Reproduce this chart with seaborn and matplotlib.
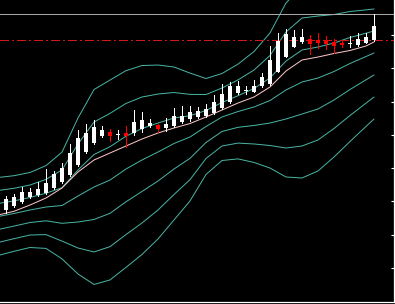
import matplotlib
matplotlib.use("Agg")
import matplotlib.pyplot as plt
import seaborn as sns
import pandas as pd
import numpy as np

# ---- candle data (price units) ----
candle_idx = list(range(-1, 47))
opens = [36.47, 37.37, 38.57, 39.77, 41.28, 41.88, 42.48, 43.98, 45.79, 47.90, 50.90, 54.81,
         57.52, 59.62, 60.83, 59.92, 60.53, 60.53, 61.73, 62.63, 63.08, 62.03, 62.63, 63.84,
         64.59, 65.49, 65.64, 66.54, 68.05, 69.85, 72.41, 73.31, 73.01, 74.66, 75.41, 78.96,
         83.53, 86.48, 87.98, 88.71, 88.50, 88.20, 87.80, 87.50, 87.20, 86.99, 87.74, 88.50]
highs = [39.77, 41.58, 42.18, 44.29, 43.99, 45.79, 49.70, 49.10, 51.50, 57.22, 61.43, 63.23,
         64.44, 62.63, 61.73, 61.43, 62.63, 67.44, 66.84, 64.74, 63.38, 65.04, 68.05, 68.65,
         68.65, 68.35, 69.25, 71.95, 75.26, 75.87, 76.17, 74.81, 76.32, 78.72, 86.84, 90.75,
         91.95, 91.50, 91.80, 90.15, 90.60, 89.85, 88.65, 88.20, 89.70, 90.60, 90.75, 96.31]
lows = [36.17, 36.47, 38.27, 39.47, 40.98, 41.58, 42.18, 43.69, 45.49, 47.60, 50.60, 54.51,
        57.22, 59.32, 58.12, 58.72, 56.32, 59.92, 60.83, 62.48, 60.83, 61.13, 62.33, 63.53,
        64.14, 65.04, 65.34, 66.24, 67.74, 69.55, 72.11, 72.26, 72.86, 74.36, 75.11, 78.87,
        83.38, 86.39, 87.68, 84.29, 86.00, 85.79, 84.68, 86.48, 86.48, 86.78, 87.50, 88.29]
closes = [38.87, 40.68, 41.28, 42.78, 42.78, 43.69, 45.49, 48.20, 50.00, 54.51, 59.02, 60.53,
          62.33, 61.43, 59.62, 60.22, 59.77, 63.84, 64.44, 63.53, 61.73, 63.23, 65.64, 65.64,
          66.84, 67.14, 67.74, 69.85, 72.26, 74.66, 74.66, 73.61, 74.81, 77.37, 82.48, 88.05,
          90.30, 89.40, 89.40, 87.29, 87.50, 87.23, 86.75, 86.99, 87.68, 88.86, 89.31, 92.71]

# ---- indicator lines (read every second bar) ----
line_idx = [-1, 1, 3, 5, 7, 9, 11, 13, 15, 17, 19, 21, 23, 25, 27, 29, 31, 33, 35, 37, 39, 41, 43, 45, 46]
bb_mid = [35.41, 36.32, 37.37, 38.27, 38.72, 41.58, 44.29, 46.39, 49.70, 52.41, 54.81, 57.37, 59.32,
          62.48, 65.34, 66.99, 68.35, 70.30, 73.46, 75.86, 77.07, 79.02, 81.43, 83.53, 84.59]
bb_dev = [3.91, 3.79, 3.76, 4.15, 5.35, 7.82, 9.77, 10.02, 9.86, 9.47, 8.72, 7.67, 6.41,
          4.81, 4.36, 4.75, 5.56, 6.77, 8.72, 9.62, 9.32, 8.57, 7.82, 7.01, 6.62]
ma_pink = [35.86, 36.98, 38.87, 40.98, 43.98, 48.80, 52.40, 54.51, 56.62, 58.72, 60.53, 62.03, 63.38,
           65.34, 67.44, 69.55, 71.35, 74.36, 79.17, 82.48, 83.38, 84.44, 85.34, 86.69, 87.90]
band_mult = [-3, -2, -1, 0, 1, 2, 3]

level_red = 88.41
level_gray = 96.32
tick_values = [20, 30, 40, 50, 60, 70, 80, 90]

# ---- style ----
sns.set_theme(style="dark", rc={
    "axes.facecolor": "black", "figure.facecolor": "black",
    "axes.grid": False, "savefig.facecolor": "black",
})

BAND_COLOR = "#48b3a3"
PINK = "#ffc6c6"
LW = 0.72  # 1 px at 100 dpi

fig = plt.figure(figsize=(3.95, 3.04), dpi=100)
ax = fig.add_axes([0.0, 2 / 304, 393.5 / 395, 302 / 304])
ax.set_facecolor("black")

mid = np.array(bb_mid)
dev = np.array(bb_dev)
for m in band_mult:
    df = pd.DataFrame({"bar": line_idx, "value": mid + m * dev})
    sns.lineplot(data=df, x="bar", y="value", ax=ax, color=BAND_COLOR,
                 linewidth=LW, sort=False, estimator=None, antialiased=True)

sns.lineplot(x=line_idx, y=ma_pink, ax=ax, color=PINK, linewidth=LW,
             sort=False, estimator=None, antialiased=True)

ax.axhline(level_gray, color="#a8a8a8", linewidth=LW, antialiased=False)
ax.axhline(level_red, color="#d01818", linewidth=LW,
           linestyle=(0, (9, 3, 2, 3)), antialiased=False)

# candles
o = np.array(opens); c = np.array(closes); h = np.array(highs); l = np.array(lows)
up = c >= o
cols = ["#ffffff" if u else "#ff0000" for u in up]
ax.vlines(candle_idx, l, h, colors=cols, linewidth=LW, antialiased=False, zorder=4)
bottoms = np.minimum(o, c)
heights = np.maximum(np.abs(c - o), 0.3)
ax.bar(candle_idx, heights, bottom=bottoms, width=0.62, color=cols,
       edgecolor="none", linewidth=0, zorder=5)

ax.set_xlim(-0.75, 48.44)
ax.set_ylim(9.70, 100.53)
ax.set_xlabel("")
ax.set_ylabel("")

for side in ("left", "top"):
    ax.spines[side].set_visible(False)
for side in ("right", "bottom"):
    ax.spines[side].set_visible(True)
    ax.spines[side].set_color("white")
    ax.spines[side].set_linewidth(0.9)

ax.set_xticks([])
ax.yaxis.tick_right()
ax.set_yticks(tick_values)
ax.set_yticklabels([])
ax.tick_params(axis="y", which="both", direction="in", length=2.5, width=0.8,
               colors="white", right=True, left=False)

fig.savefig("out.png", dpi=100, facecolor="black")
